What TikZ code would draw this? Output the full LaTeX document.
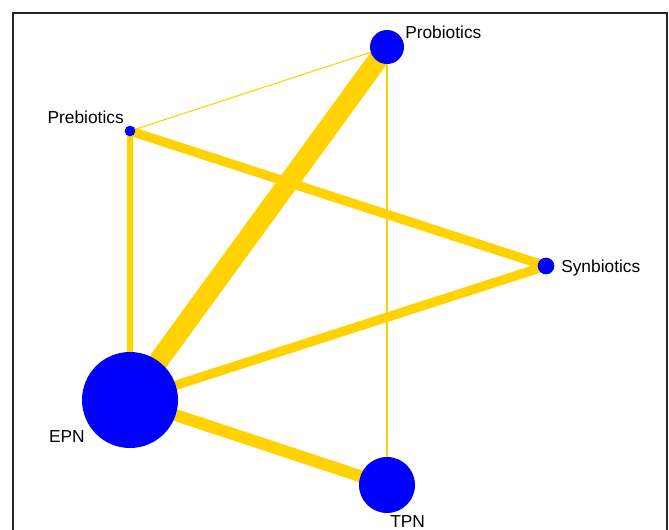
\documentclass[tikz,border=0pt]{standalone}
\usepackage{fontspec}
\setmainfont{Liberation Sans}
\usetikzlibrary{backgrounds}
\definecolor{netgold}{RGB}{255,210,0}
\definecolor{netblue}{RGB}{0,0,255}
\begin{document}
\begin{tikzpicture}[x=0.75pt, y=-0.75pt, every node/.style={font=\fontsize{13}{15}\selectfont},
    trt/.style={circle, fill=netblue, inner sep=0pt},
    lbl/.style={inner sep=0pt},
    edge/.style={draw=netgold, line cap=butt}]
    \useasboundingbox (0,0) rectangle (669,530);
    \draw[line width=1.2pt, black!85] (13,540) -- (13,13) -- (667,13) -- (667,540);

    \node[trt, minimum size=25.5pt] (pro) at (387, 47) {};
    \node[trt, minimum size=8pt] (pre) at (130, 131) {};
    \node[trt, minimum size=12.5pt] (syn) at (546, 266) {};
    \node[trt, minimum size=72pt] (epn) at (130, 400) {};
    \node[trt, minimum size=42pt] (tpn) at (387, 485) {};

    \begin{scope}[on background layer]
      \draw[edge, line width=0.8pt] (pre.center) -- (pro.center);
      \draw[edge, line width=7pt] (pre.center) -- (syn.center);
      \draw[edge, line width=4.5pt] (pre.center) -- (epn.center);
      \draw[edge, line width=15pt] (pro.center) -- (epn.center);
      \draw[edge, line width=2.2pt] (pro.center) -- (tpn.center);
      \draw[edge, line width=7pt] (syn.center) -- (epn.center);
      \draw[edge, line width=9pt] (epn.center) -- (tpn.center);
    \end{scope}

    \node[lbl, anchor=west] (lpro) at (405, 32) {Probiotics};
    \node[lbl, anchor=east] (lpre) at (124, 117) {Prebiotics};
    \node[lbl, anchor=west] (lsyn) at (561, 268) {Synbiotics};
    \node[lbl, anchor=east] (lepn) at (85, 437) {EPN};
    \node[lbl, anchor=west] (ltpn) at (390, 522) {TPN};
\end{tikzpicture}
\end{document}
